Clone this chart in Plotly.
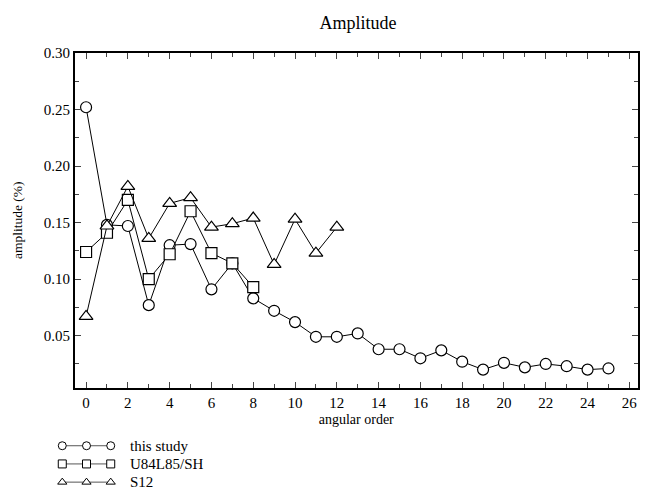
import plotly.graph_objects as go

# angular order (x) and amplitude in percent (y) for each model
order_this = list(range(26))
amp_this = [0.252, 0.148, 0.147, 0.077, 0.130, 0.131, 0.091, 0.114, 0.083, 0.072,
            0.062, 0.049, 0.049, 0.052, 0.038, 0.038, 0.030, 0.037, 0.027, 0.020,
            0.026, 0.022, 0.025, 0.023, 0.020, 0.021]

order_u84 = list(range(9))
amp_u84 = [0.124, 0.141, 0.170, 0.100, 0.122, 0.160, 0.123, 0.114, 0.093]

order_s12 = list(range(13))
amp_s12 = [0.067, 0.147, 0.182, 0.136, 0.167, 0.172, 0.146, 0.149, 0.154, 0.113,
           0.153, 0.123, 0.146]

series_names = ["this study", "U84L85/SH", "S12"]
series_symbols = ["circle", "square", "triangle-up"]

FONT = "Liberation Serif"
W, H = 650, 490

fig = go.Figure()

marker_sizes = [11, 11, 12]
for (xs, ys), name, sym, ms in zip(
        [(order_this, amp_this), (order_u84, amp_u84), (order_s12, amp_s12)],
        series_names, series_symbols, marker_sizes):
    fig.add_trace(go.Scatter(
        x=xs, y=ys, name=name, mode="lines+markers",
        line=dict(color="black", width=1),
        marker=dict(symbol=sym, size=ms, color="white",
                    line=dict(color="black", width=1.2)),
        showlegend=False, xaxis="x", yaxis="y",
    ))

# legend keys: three markers joined by a thin line, drawn on a small helper axis
key_x = [0, 1, 2]
legend_rows_px = [445, 464, 482]          # vertical centre of each key row
legend_text_px = 128                      # left edge of the key labels
row_vals = [2, 1, 0]
for row, (name, sym) in enumerate(zip(series_names, series_symbols)):
    fig.add_trace(go.Scatter(
        x=key_x, y=[row_vals[row]] * 3, mode="lines+markers",
        line=dict(color="#555555", width=1),
        marker=dict(symbol=sym, size=8, color="white",
                    line=dict(color="black", width=1)),
        showlegend=False, hoverinfo="skip", xaxis="x2", yaxis="y2",
    ))
    fig.add_annotation(
        x=legend_text_px / W, y=1 - legend_rows_px[row] / H, xref="paper", yref="paper",
        text=name, showarrow=False, xanchor="left", yanchor="middle",
        font=dict(family=FONT, size=15, color="black"),
    )

x0, x1 = 75, 637.5
y0, y1 = 45.7, 386

# helper axis for the keys: rows 0..2 sit at legend_rows_px
px_per_row = (legend_rows_px[2] - legend_rows_px[0]) / 2.0
y2_dom_px = 50.0
y2_lo = -(H - legend_rows_px[2]) / px_per_row
y2_hi = y2_lo + y2_dom_px / px_per_row

fig.update_layout(
    width=W, height=H,
    margin=dict(l=0, r=0, t=0, b=0),
    paper_bgcolor="white", plot_bgcolor="white",
    font=dict(family=FONT, color="black"),
    title=dict(text="Amplitude", x=358 / W, xanchor="center", xref="paper",
               y=1 - 23 / H, yanchor="middle", yref="container",
               font=dict(family=FONT, size=18, color="black")),
    xaxis=dict(
        domain=[x0 / W, x1 / W], range=[-0.53, 26.39],
        tick0=0, dtick=2, ticks="inside", ticklen=6, tickwidth=1,
        minor=dict(dtick=1, ticks="inside", ticklen=4, tickwidth=1),
        showline=True, linecolor="black", linewidth=2, mirror="ticks",
        showgrid=False, zeroline=False,
        tickfont=dict(family=FONT, size=15),
        title=dict(text="angular order", font=dict(family=FONT, size=14), standoff=5),
        anchor="y",
    ),
    yaxis=dict(
        domain=[1 - y1 / H, 1 - y0 / H], range=[0.004, 0.30],
        tick0=0, dtick=0.05, tickformat=".2f", ticks="inside", ticklen=6, tickwidth=1,
        minor=dict(dtick=0.025, ticks="inside", ticklen=4, tickwidth=1),
        showline=True, linecolor="black", linewidth=2, mirror="ticks",
        showgrid=False, zeroline=False,
        tickfont=dict(family=FONT, size=15),
        title=dict(text="amplitude (%)", font=dict(family=FONT, size=13.5), standoff=18),
        anchor="x",
    ),
    xaxis2=dict(domain=[55 / W, 118 / W], range=[-0.3, 2.3], visible=False,
                fixedrange=True, anchor="y2"),
    yaxis2=dict(domain=[0, y2_dom_px / H], range=[y2_lo, y2_hi], visible=False,
                fixedrange=True, anchor="x2"),
)

fig.write_html("out.html")
